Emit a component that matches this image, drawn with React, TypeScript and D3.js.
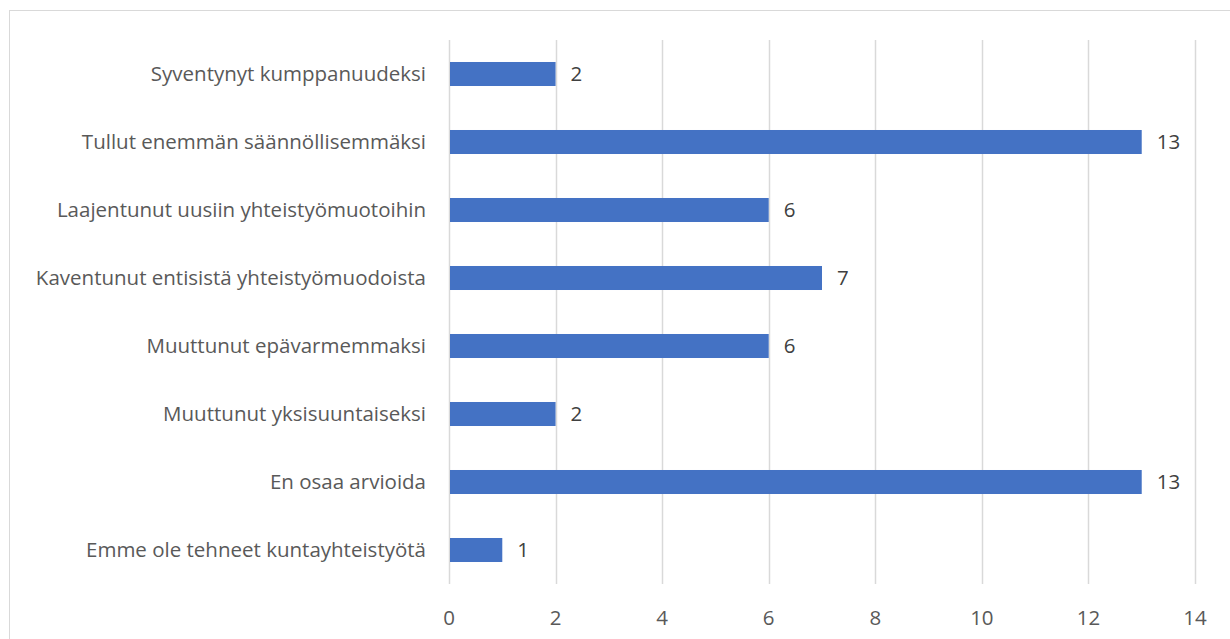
import React, { useEffect, useRef } from 'react';
import * as d3 from 'd3';

const categories = [
  'Syventynyt kumppanuudeksi',
  'Tullut enemmän säännöllisemmäksi',
  'Laajentunut uusiin yhteistyömuotoihin',
  'Kaventunut entisistä yhteistyömuodoista',
  'Muuttunut epävarmemmaksi',
  'Muuttunut yksisuuntaiseksi',
  'En osaa arvioida',
  'Emme ole tehneet kuntayhteistyötä',
];
const values = [2, 13, 6, 7, 6, 2, 13, 1];
const xTicks = [0, 2, 4, 6, 8, 10, 12, 14];

const App = () => {
  const ref = useRef<SVGSVGElement>(null);

  useEffect(() => {
    const width = 1230;
    const height = 639;
    const margin = { top: 40, right: 35, bottom: 55, left: 449 };
    const font = "Open Sans, 'Noto Sans', sans-serif";
    const fontSize = 20.5;

    const svg = d3.select(ref.current);
    svg.selectAll('*').remove();

    // chart frame (runs off the right and bottom edge)
    svg.append('rect')
      .attr('x', 9.5).attr('y', 10.5)
      .attr('width', 1240).attr('height', 660)
      .attr('fill', '#fff').attr('stroke', '#d9d9d9');

    const x = d3.scaleLinear().domain([0, 14]).range([margin.left, width - margin.right]);
    const y = d3.scaleBand<string>()
      .domain(categories)
      .range([margin.top, height - margin.bottom])
      .paddingInner(0.647)
      .paddingOuter(0.3235);

    // gridlines
    svg.append('g')
      .selectAll('line')
      .data(xTicks)
      .join('line')
      .attr('x1', (d) => Math.round(x(d)) + 0.5)
      .attr('x2', (d) => Math.round(x(d)) + 0.5)
      .attr('y1', margin.top)
      .attr('y2', height - margin.bottom)
      .attr('stroke', '#d9d9d9')
      .attr('stroke-width', 1.5);

    // tick labels
    svg.append('g')
      .selectAll('text')
      .data(xTicks)
      .join('text')
      .attr('x', (d) => x(d))
      .attr('y', 618)
      .attr('dy', '0.35em')
      .attr('text-anchor', 'middle')
      .attr('font-family', font)
      .attr('font-size', fontSize)
      .attr('fill', '#595959')
      .text((d) => d);

    // bars
    svg.append('g')
      .selectAll('rect')
      .data(values)
      .join('rect')
      .attr('x', x(0) + 1)
      .attr('y', (_, i) => y(categories[i])!)
      .attr('width', (d) => x(d) - x(0) - 1)
      .attr('height', y.bandwidth())
      .attr('fill', '#4472c4');

    // value labels
    svg.append('g')
      .selectAll('text')
      .data(values)
      .join('text')
      .attr('x', (d) => x(d) + 15)
      .attr('y', (_, i) => y(categories[i])! + y.bandwidth() / 2)
      .attr('dy', '0.35em')
      .attr('font-family', font)
      .attr('font-size', fontSize)
      .attr('fill', '#404040')
      .text((d) => d);

    // category labels
    svg.append('g')
      .selectAll('text')
      .data(categories)
      .join('text')
      .attr('x', 426)
      .attr('y', (d) => y(d)! + y.bandwidth() / 2)
      .attr('dy', '0.35em')
      .attr('text-anchor', 'end')
      .attr('font-family', font)
      .attr('font-size', fontSize)
      .attr('fill', '#595959')
      .text((d) => d);
  }, []);

  return (
    <svg
      ref={ref}
      width={1230}
      height={639}
      style={{ position: 'absolute', left: 0, top: 0, background: '#fff' }}
    />
  );
};

export default App;
